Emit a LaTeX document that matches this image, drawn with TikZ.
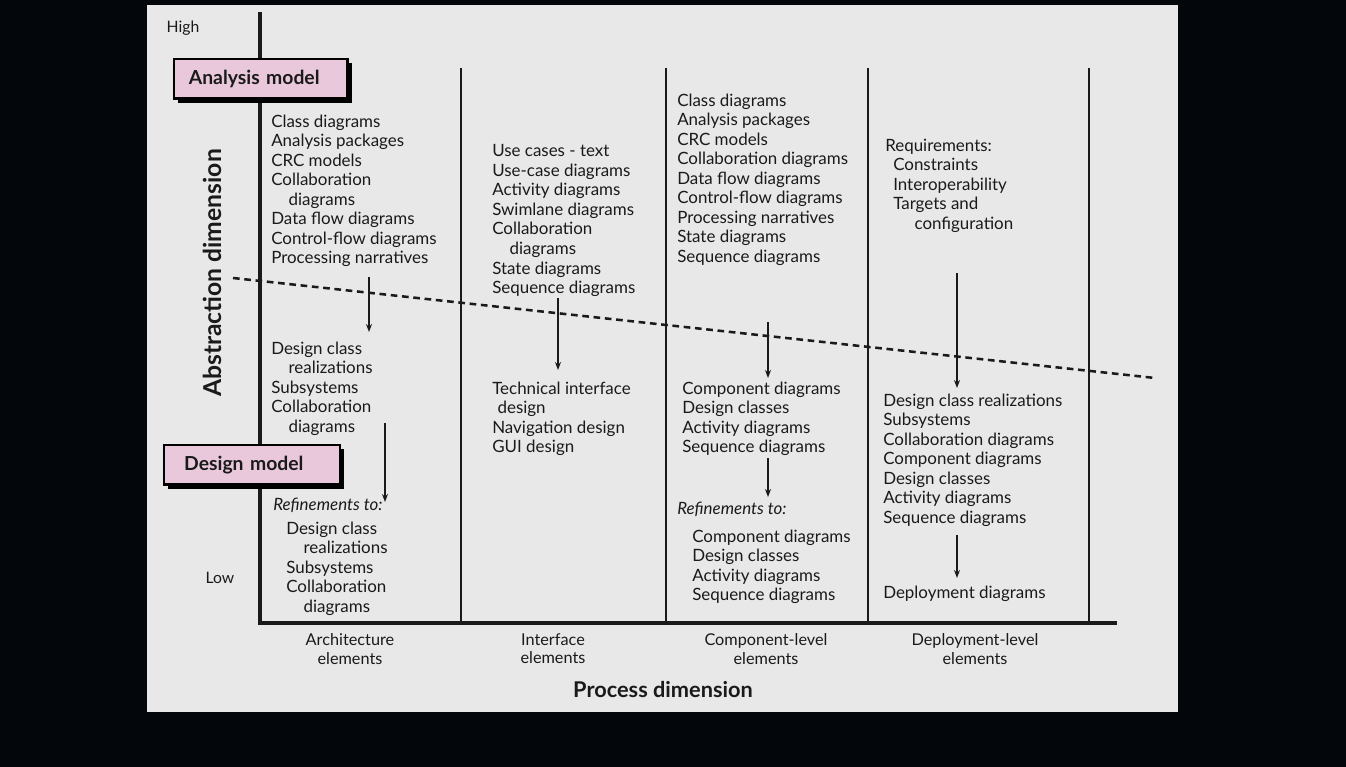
\documentclass[tikz,border=0pt]{standalone}
\usepackage{fontspec}
\setmainfont{Lato}
\usetikzlibrary{arrows.meta,shadows}
\definecolor{SlideBlack}{HTML}{03060A}
\definecolor{PanelGrey}{HTML}{E8E8E8}
\definecolor{ModelPink}{HTML}{EAC8DB}
\definecolor{InkBlack}{HTML}{1A1A1A}
\newcommand{\ind}[1][13pt]{\hspace*{#1}}

\begin{document}
\begin{tikzpicture}[x=0.75pt,y=-0.75pt,
    item/.style={anchor=north west,align=left,inner sep=0pt,text=InkBlack,font=\fontsize{12.7}{14.65}\selectfont,execute at begin node=\strut},
    elemlabel/.style={anchor=north,align=center,inner sep=0pt,text=InkBlack,font=\fontsize{12.2}{13.8}\selectfont,execute at begin node=\strut},
    dimlabel/.style={inner sep=0pt,text=InkBlack,font=\bfseries\fontsize{16.3}{18}\selectfont},
    modelbox/.style={draw=black,line width=1.8pt,fill=ModelPink,anchor=north west,align=left,
      inner xsep=11pt,inner ysep=0pt,minimum height=29.5pt,text=InkBlack,font=\bfseries\fontsize{14.5}{16}\selectfont,
      drop shadow={shadow xshift=3.2pt,shadow yshift=-3.2pt,fill=black,opacity=1}},
    axisline/.style={line width=3pt,InkBlack},
    sepline/.style={line width=1.3pt,InkBlack},
    flow/.style={line width=1.1pt,InkBlack,-{Stealth[length=6pt,width=4.5pt]}}]
  \fill[SlideBlack] (0,0) rectangle (1346,767);
  \fill[PanelGrey] (147,5) rectangle (1178,712);
  \coordinate (ytop) at (260,12);
  \coordinate (xend) at (1117,623);
  \draw[axisline] (ytop) |- (xend);
  \foreach \x in {461,666,868,1089}
    \draw[sepline] (\x,68) -- (\x,623);
  \coordinate (dashL) at (233,278);
  \coordinate (dashR) at (1155,378);
  \draw[line width=1.9pt,InkBlack,dash pattern=on 5pt off 3.5pt] (dashL) -- (dashR);

  \node[anchor=base,inner sep=0pt,text=InkBlack,font=\fontsize{11.8}{14}\selectfont] (high) at (183,33) {High};
  \node[anchor=base,inner sep=0pt,text=InkBlack,font=\fontsize{11.8}{14}\selectfont] (low) at (220,583) {Low};
  \node[modelbox,text width=108pt] (anmodel) at (173,58) {Analysis model};
  \node[modelbox,inner xsep=15pt,text width=102pt] (dsmodel) at (163,444) {Design model};
  \node[dimlabel,rotate=90,font=\bfseries\fontsize{18.5}{20}\selectfont] (abstr) at (212,273) {Abstraction dimension};
  \node[dimlabel,anchor=base] (process) at (663,697) {Process dimension};

  \node[item] (arch1) at (271,114.4) {Class diagrams\\Analysis packages\\CRC models\\Collaboration\\\ind diagrams\\Data flow diagrams\\Control-flow diagrams\\Processing narratives};
  \node[item] (arch2) at (271,341.4) {Design class\\\ind realizations\\Subsystems\\Collaboration\\\ind diagrams};
  \node[item,font=\itshape\fontsize{12.7}{14.65}\selectfont] (archref) at (273,496.4) {Refinements to:};
  \node[item] (arch3) at (286,521.4) {Design class\\\ind realizations\\Subsystems\\Collaboration\\\ind diagrams};

  \node[item] (intf1) at (492,144.4) {Use cases - text\\Use-case diagrams\\Activity diagrams\\Swimlane diagrams\\Collaboration\\\ind diagrams\\State diagrams\\Sequence diagrams};
  \node[item] (intf2) at (492,381.4) {Technical interface\\\ind[4pt]design\\Navigation design\\GUI design};

  \node[item] (comp1) at (677,93.4) {Class diagrams\\Analysis packages\\CRC models\\Collaboration diagrams\\Data flow diagrams\\Control-flow diagrams\\Processing narratives\\State diagrams\\Sequence diagrams};
  \node[item] (comp2) at (682,381.4) {Component diagrams\\Design classes\\Activity diagrams\\Sequence diagrams};
  \node[item,font=\itshape\fontsize{12.7}{14.65}\selectfont] (compref) at (677,500.4) {Refinements to:};
  \node[item] (comp3) at (692,529.4) {Component diagrams\\Design classes\\Activity diagrams\\Sequence diagrams};

  \node[item] (depl1) at (885,138.4) {Requirements:\\\ind[6pt]Constraints\\\ind[6pt]Interoperability\\\ind[6pt]Targets and\\\ind[22pt]configuration};
  \node[item] (depl2) at (883,393.4) {Design class realizations\\Subsystems\\Collaboration diagrams\\Component diagrams\\Design classes\\Activity diagrams\\Sequence diagrams};
  \node[item] (depl3) at (883,584.4) {Deployment diagrams};

  \node[elemlabel] (archlab) at (350,633.4) {Architecture\\elements};
  \node[elemlabel] (intflab) at (553,633.4) {Interface\\elements};
  \node[elemlabel] (complab) at (766,633.4) {Component-level\\elements};
  \node[elemlabel] (depllab) at (975,633.4) {Deployment-level\\elements};

  \coordinate (a1s) at (369,277);
  \coordinate (a1e) at (369,332);
  \coordinate (a2s) at (385,423);
  \coordinate (a2e) at (385,502);
  \coordinate (a3s) at (558,298);
  \coordinate (a3e) at (558,370);
  \coordinate (a4s) at (768,322);
  \coordinate (a4e) at (768,378);
  \coordinate (a5s) at (768,458);
  \coordinate (a5e) at (768,497);
  \coordinate (a6s) at (957,273);
  \coordinate (a6e) at (957,388);
  \coordinate (a7s) at (957,535);
  \coordinate (a7e) at (957,578);
  \foreach \a in {1,...,7}
    \draw[flow] (a\a s) -- (a\a e);
\end{tikzpicture}
\end{document}
